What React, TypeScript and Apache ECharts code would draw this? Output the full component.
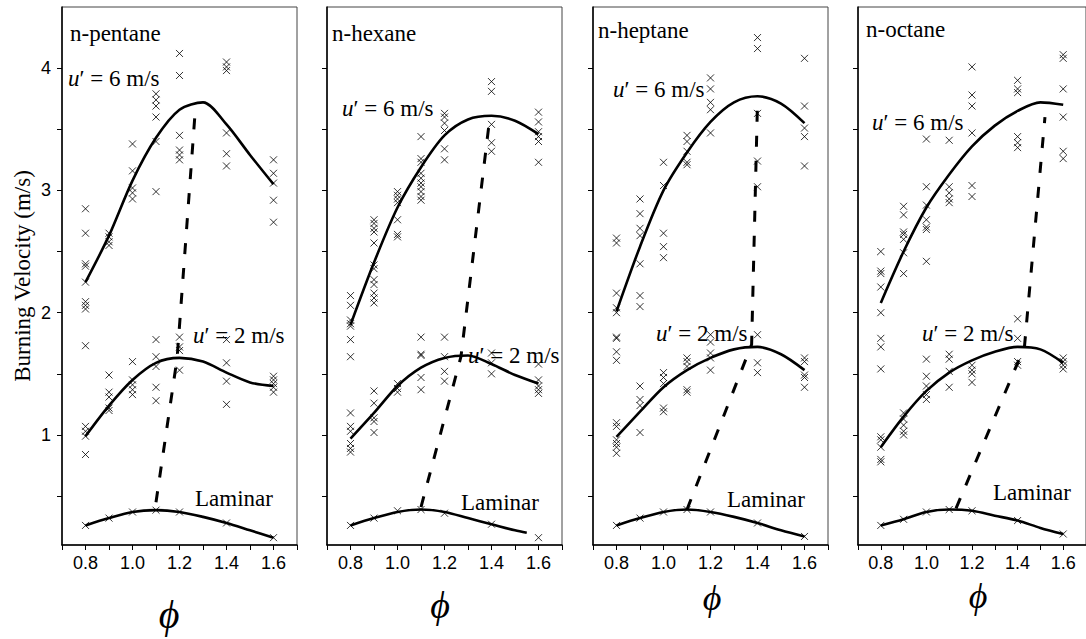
import React, { useEffect, useRef } from 'react';
import * as echarts from 'echarts';

const panelNames = ['n-pentane', 'n-hexane', 'n-heptane', 'n-octane'];
const xTickValues = [0.7, 0.8, 0.9, 1.0, 1.1, 1.2, 1.3, 1.4, 1.5, 1.6, 1.7];
const xLabelValues = [0.8, 1.0, 1.2, 1.4, 1.6];
const yTickValues = [0.5, 1.0, 1.5, 2.0, 2.5, 3.0, 3.5, 4.0];
const yLabelValues = [1, 2, 3, 4];

// ---------- n-pentane ----------
const pentaneU6 = [
  [0.8, 2.85], [0.8, 2.65], [0.8, 2.40], [0.8, 2.38], [0.8, 2.25], [0.8, 2.09], [0.8, 2.06], [0.8, 2.03], [0.8, 1.73],
  [0.9, 2.65], [0.9, 2.62], [0.9, 2.58], [0.9, 2.55],
  [1.0, 3.38], [1.0, 3.16], [1.0, 3.02], [1.0, 2.98], [1.0, 2.93],
  [1.1, 3.79], [1.1, 3.74], [1.1, 3.69], [1.1, 3.60], [1.1, 3.40], [1.1, 2.99],
  [1.2, 4.12], [1.2, 3.94], [1.2, 3.45], [1.2, 3.33], [1.2, 3.29], [1.2, 3.25],
  [1.4, 4.05], [1.4, 4.01], [1.4, 3.98], [1.4, 3.47], [1.4, 3.30], [1.4, 3.20],
  [1.6, 3.25], [1.6, 3.14], [1.6, 3.06], [1.6, 2.92], [1.6, 2.74],
];
const pentaneU2 = [
  [0.8, 1.07], [0.8, 1.03], [0.8, 0.99], [0.8, 0.84],
  [0.9, 1.49], [0.9, 1.35], [0.9, 1.31], [0.9, 1.22], [0.9, 1.20],
  [1.0, 1.60], [1.0, 1.45], [1.0, 1.41], [1.0, 1.37], [1.0, 1.33],
  [1.1, 1.78], [1.1, 1.64], [1.1, 1.56], [1.1, 1.39], [1.1, 1.28],
  [1.2, 1.80], [1.2, 1.72], [1.2, 1.69], [1.2, 1.53],
  [1.4, 1.78], [1.4, 1.59], [1.4, 1.44], [1.4, 1.25],
  [1.6, 1.48], [1.6, 1.45], [1.6, 1.42], [1.6, 1.39], [1.6, 1.35],
];
const pentaneLam = [[0.8, 0.26], [0.9, 0.32], [1.0, 0.37], [1.1, 0.385], [1.2, 0.37], [1.4, 0.28], [1.6, 0.16]];
const pentaneFit6 = [[0.8, 2.25], [0.9, 2.63], [1.0, 3.08], [1.1, 3.43], [1.2, 3.66], [1.3, 3.72], [1.4, 3.54], [1.5, 3.29], [1.6, 3.05]];
const pentaneFit2 = [[0.8, 0.99], [0.9, 1.24], [1.0, 1.45], [1.1, 1.59], [1.2, 1.63], [1.3, 1.60], [1.4, 1.51], [1.5, 1.43], [1.6, 1.40]];
const pentaneFitLam = [[0.8, 0.26], [0.9, 0.32], [1.0, 0.37], [1.1, 0.385], [1.2, 0.37], [1.3, 0.33], [1.4, 0.28], [1.5, 0.22], [1.6, 0.16]];
const pentanePeaks = [[1.1, 0.45], [1.19, 1.63], [1.265, 3.6]];

// ---------- n-hexane ----------
const hexaneU6 = [
  [0.8, 2.14], [0.8, 2.06], [0.8, 1.94], [0.8, 1.91], [0.8, 1.89], [0.8, 1.78], [0.8, 1.64],
  [0.9, 2.76], [0.9, 2.73], [0.9, 2.69], [0.9, 2.66], [0.9, 2.57], [0.9, 2.39], [0.9, 2.36], [0.9, 2.27], [0.9, 2.23], [0.9, 2.16], [0.9, 2.12], [0.9, 2.08],
  [1.0, 2.99], [1.0, 2.96], [1.0, 2.93], [1.0, 2.90], [1.0, 2.76], [1.0, 2.64], [1.0, 2.62],
  [1.1, 3.44], [1.1, 3.26], [1.1, 3.23], [1.1, 3.14], [1.1, 3.10], [1.1, 3.06], [1.1, 3.03], [1.1, 2.99], [1.1, 2.95], [1.1, 2.92],
  [1.2, 3.63], [1.2, 3.60], [1.2, 3.55], [1.2, 3.49], [1.2, 3.34], [1.2, 3.25],
  [1.4, 3.89], [1.4, 3.81], [1.4, 3.54], [1.4, 3.39], [1.4, 3.32],
  [1.6, 3.64], [1.6, 3.56], [1.6, 3.48], [1.6, 3.44], [1.6, 3.40], [1.6, 3.23],
];
const hexaneU2 = [
  [0.8, 1.18], [0.8, 1.07], [0.8, 1.03], [0.8, 0.93], [0.8, 0.89], [0.8, 0.86],
  [0.9, 1.36], [0.9, 1.26], [0.9, 1.14], [0.9, 1.11], [0.9, 1.02],
  [1.0, 1.42], [1.0, 1.38], [1.0, 1.35],
  [1.1, 1.80], [1.1, 1.66], [1.1, 1.65], [1.1, 1.47], [1.1, 1.37],
  [1.2, 1.80], [1.2, 1.64], [1.2, 1.52], [1.2, 1.44],
  [1.4, 1.67], [1.4, 1.59], [1.4, 1.50],
  [1.6, 1.58], [1.6, 1.45], [1.6, 1.40], [1.6, 1.37], [1.6, 1.34],
];
const hexaneLam = [[0.8, 0.26], [0.9, 0.32], [1.0, 0.38], [1.1, 0.39], [1.2, 0.36], [1.4, 0.27], [1.6, 0.16]];
const hexaneFit6 = [[0.8, 1.90], [0.9, 2.41], [1.0, 2.86], [1.1, 3.19], [1.2, 3.45], [1.3, 3.58], [1.4, 3.61], [1.5, 3.57], [1.6, 3.46]];
const hexaneFit2 = [[0.8, 0.97], [0.9, 1.18], [1.0, 1.40], [1.1, 1.55], [1.2, 1.63], [1.3, 1.65], [1.4, 1.58], [1.5, 1.49], [1.6, 1.42]];
const hexaneFitLam = [[0.8, 0.26], [0.9, 0.32], [1.0, 0.37], [1.1, 0.39], [1.2, 0.37], [1.3, 0.32], [1.4, 0.27], [1.5, 0.22], [1.55, 0.20]];
const hexanePeaks = [[1.1, 0.41], [1.27, 1.64], [1.39, 3.55]];

// ---------- n-heptane ----------
const heptaneU6 = [
  [0.8, 2.61], [0.8, 2.57], [0.8, 2.16], [0.8, 2.04], [0.8, 2.00], [0.8, 1.80], [0.8, 1.79], [0.8, 1.68], [0.8, 1.61],
  [0.9, 2.93], [0.9, 2.81], [0.9, 2.69], [0.9, 2.63], [0.9, 2.40], [0.9, 2.14], [0.9, 2.05],
  [1.0, 3.23], [1.0, 3.04], [1.0, 2.65], [1.0, 2.54], [1.0, 2.45],
  [1.1, 3.45], [1.1, 3.40], [1.1, 3.32], [1.1, 3.23], [1.1, 3.21],
  [1.2, 3.92], [1.2, 3.83], [1.2, 3.72], [1.2, 3.66], [1.2, 3.47],
  [1.4, 4.25], [1.4, 4.16], [1.4, 3.63], [1.4, 3.24], [1.4, 3.03],
  [1.6, 4.08], [1.6, 3.69], [1.6, 3.51], [1.6, 3.44], [1.6, 3.20],
];
const heptaneU2 = [
  [0.8, 1.10], [0.8, 1.07], [0.8, 0.96], [0.8, 0.93], [0.8, 0.90], [0.8, 0.85],
  [0.9, 1.40], [0.9, 1.29], [0.9, 1.24], [0.9, 1.02],
  [1.0, 1.51], [1.0, 1.47], [1.0, 1.42], [1.0, 1.22], [1.0, 1.19],
  [1.1, 1.63], [1.1, 1.60], [1.1, 1.56], [1.1, 1.37], [1.1, 1.35],
  [1.2, 1.82], [1.2, 1.76], [1.2, 1.67], [1.2, 1.63], [1.2, 1.53],
  [1.4, 1.82], [1.4, 1.59], [1.4, 1.51],
  [1.6, 1.63], [1.6, 1.60], [1.6, 1.49], [1.6, 1.47], [1.6, 1.39],
];
const heptaneLam = [[0.8, 0.26], [0.9, 0.32], [1.0, 0.37], [1.1, 0.39], [1.2, 0.37], [1.4, 0.28], [1.6, 0.17]];
const heptaneFit6 = [[0.8, 2.01], [0.9, 2.54], [1.0, 3.00], [1.1, 3.31], [1.2, 3.56], [1.3, 3.72], [1.4, 3.77], [1.5, 3.71], [1.6, 3.55]];
const heptaneFit2 = [[0.8, 0.985], [0.9, 1.19], [1.0, 1.39], [1.1, 1.53], [1.2, 1.63], [1.3, 1.70], [1.4, 1.72], [1.5, 1.66], [1.6, 1.53]];
const heptaneFitLam = [[0.8, 0.26], [0.9, 0.32], [1.0, 0.37], [1.1, 0.39], [1.2, 0.37], [1.3, 0.33], [1.4, 0.28], [1.5, 0.22], [1.6, 0.17]];
const heptanePeaks = [[1.1, 0.39], [1.375, 1.74], [1.4, 3.72]];

// ---------- n-octane ----------
const octaneU6 = [
  [0.8, 2.50], [0.8, 2.34], [0.8, 2.32], [0.8, 2.21], [0.8, 2.00], [0.8, 1.79], [0.8, 1.72], [0.8, 1.54],
  [0.9, 2.87], [0.9, 2.80], [0.9, 2.66], [0.9, 2.64], [0.9, 2.60], [0.9, 2.49], [0.9, 2.32],
  [1.0, 3.42], [1.0, 3.03], [1.0, 2.88], [1.0, 2.76], [1.0, 2.70], [1.0, 2.68], [1.0, 2.42],
  [1.1, 3.41], [1.1, 3.03], [1.1, 2.98], [1.1, 2.93], [1.1, 2.90],
  [1.2, 4.01], [1.2, 3.78], [1.2, 3.69], [1.2, 3.47], [1.2, 3.04], [1.2, 2.95],
  [1.4, 3.90], [1.4, 3.83], [1.4, 3.80], [1.4, 3.44], [1.4, 3.39], [1.4, 3.35], [1.4, 1.95],
  [1.6, 4.11], [1.6, 4.08], [1.6, 3.83], [1.6, 3.60], [1.6, 3.32], [1.6, 3.26],
];
const octaneU2 = [
  [0.8, 0.985], [0.8, 0.96], [0.8, 0.90], [0.8, 0.80], [0.8, 0.78],
  [0.9, 1.18], [0.9, 1.13], [0.9, 1.08], [0.9, 1.03], [0.9, 1.00],
  [1.0, 1.62], [1.0, 1.48], [1.0, 1.40], [1.0, 1.33], [1.0, 1.29],
  [1.1, 1.66], [1.1, 1.62], [1.1, 1.52], [1.1, 1.39],
  [1.2, 1.57], [1.2, 1.53], [1.2, 1.50], [1.2, 1.43],
  [1.4, 1.79], [1.4, 1.60], [1.4, 1.57],
  [1.6, 1.63], [1.6, 1.60], [1.6, 1.57], [1.6, 1.54],
];
const octaneLam = [[0.8, 0.26], [0.9, 0.31], [1.0, 0.37], [1.1, 0.39], [1.2, 0.38], [1.4, 0.30], [1.6, 0.19]];
const octaneFit6 = [[0.8, 2.08], [0.9, 2.50], [1.0, 2.86], [1.1, 3.13], [1.2, 3.36], [1.3, 3.53], [1.4, 3.65], [1.5, 3.72], [1.6, 3.70]];
const octaneFit2 = [[0.8, 0.90], [0.9, 1.15], [1.0, 1.36], [1.1, 1.51], [1.2, 1.61], [1.3, 1.68], [1.4, 1.72], [1.5, 1.70], [1.6, 1.59]];
const octaneFitLam = [[0.8, 0.26], [0.9, 0.31], [1.0, 0.37], [1.1, 0.39], [1.2, 0.38], [1.3, 0.34], [1.4, 0.30], [1.5, 0.24], [1.6, 0.19]];
const octanePeaks = [[1.13, 0.40], [1.43, 1.72], [1.52, 3.60]];

const panels = [
  { name: panelNames[0], u6: pentaneU6, u2: pentaneU2, lam: pentaneLam, fit6: pentaneFit6, fit2: pentaneFit2, fitLam: pentaneFitLam, peaks: pentanePeaks },
  { name: panelNames[1], u6: hexaneU6, u2: hexaneU2, lam: hexaneLam, fit6: hexaneFit6, fit2: hexaneFit2, fitLam: hexaneFitLam, peaks: hexanePeaks },
  { name: panelNames[2], u6: heptaneU6, u2: heptaneU2, lam: heptaneLam, fit6: heptaneFit6, fit2: heptaneFit2, fitLam: heptaneFitLam, peaks: heptanePeaks },
  { name: panelNames[3], u6: octaneU6, u2: octaneU2, lam: octaneLam, fit6: octaneFit6, fit2: octaneFit2, fitLam: octaneFitLam, peaks: octanePeaks },
];

// layout (pixels)
const gridLefts = [62, 327, 593, 858];
const GRID_TOP = 7;
const GRID_W = 235;
const GRID_H = 538;

const SERIF = 'Liberation Serif, Times New Roman, Times, serif';
const SANS = 'Liberation Sans, Arial, Helvetica, sans-serif';

const labelLayout = [
  { title: [70, 33], u6: [68, 78], u2: [193, 335], lam: [195, 498], phi: [169, 614], phiSize: 40 },
  { title: [332, 33], u6: [342, 108], u2: [468, 355], lam: [461, 502], phi: [440, 605], phiSize: 38 },
  { title: [598, 30], u6: [613, 89], u2: [656, 333], lam: [727, 499], phi: [712, 598], phiSize: 36 },
  { title: [866, 29], u6: [872, 122], u2: [922, 333], lam: [993, 492], phi: [978, 596], phiSize: 36 },
];

const crossSymbol = 'path://M0,0L10,10M10,0L0,10';

function buildOption() {
  const grid: any[] = [];
  const xAxis: any[] = [];
  const yAxis: any[] = [];
  const series: any[] = [];
  const graphic: any[] = [];

  panels.forEach((p, i) => {
    grid.push({
      left: gridLefts[i], top: GRID_TOP, width: GRID_W, height: GRID_H,
      show: true, borderColor: '#444', borderWidth: 1, backgroundColor: 'transparent',
    });
    xAxis.push({
      type: 'value', gridIndex: i, min: 0.7, max: 1.7,
      axisLine: { show: true, onZero: false, lineStyle: { color: '#000', width: 1.5 } },
      axisTick: { show: true, inside: false, length: 5, customValues: xTickValues, lineStyle: { color: '#000', width: 1 } },
      axisLabel: {
        show: true, customValues: xLabelValues, margin: 9,
        formatter: (v: number) => v.toFixed(1),
        fontFamily: SANS, fontSize: 18, color: '#000',
      },
      splitLine: { show: false },
    });
    yAxis.push({
      type: 'value', gridIndex: i, min: 0.1, max: 4.5,
      axisLine: { show: true, onZero: false, lineStyle: { color: '#000', width: 1.5 } },
      axisTick: { show: true, inside: false, length: 5, customValues: yTickValues, lineStyle: { color: '#000', width: 1 } },
      axisLabel: {
        show: i === 0, customValues: yLabelValues, margin: 11,
        fontFamily: SANS, fontSize: 18, color: '#000',
      },
      splitLine: { show: false },
    });

    const scatterBase = {
      type: 'scatter', xAxisIndex: i, yAxisIndex: i,
      symbol: crossSymbol, symbolSize: 7,
      itemStyle: { color: 'transparent', borderColor: '#000', borderWidth: 1 },
      z: 3,
    };
    series.push({ ...scatterBase, name: p.name + ' u6', data: p.u6 });
    series.push({ ...scatterBase, name: p.name + ' u2', data: p.u2 });
    series.push({ ...scatterBase, name: p.name + ' laminar', data: p.lam });

    const lineBase = {
      type: 'line', xAxisIndex: i, yAxisIndex: i, symbol: 'none', smooth: 0.3,
      lineStyle: { color: '#000', width: 2.6 }, z: 4,
    };
    series.push({ ...lineBase, name: p.name + ' fit6', data: p.fit6 });
    series.push({ ...lineBase, name: p.name + ' fit2', data: p.fit2 });
    series.push({ ...lineBase, name: p.name + ' fitLam', data: p.fitLam });
    series.push({
      type: 'line', xAxisIndex: i, yAxisIndex: i, symbol: 'none', smooth: false,
      name: p.name + ' peaks', data: p.peaks,
      lineStyle: { color: '#000', width: 3, type: [11, 14] }, z: 4,
    });

    const L = labelLayout[i];
    const richStyle = { i: { fontStyle: 'italic', fontFamily: SERIF, fontSize: 23, fill: '#000' } } as any;
    graphic.push({
      type: 'text', x: L.title[0], y: L.title[1], z: 10,
      style: { text: p.name, fontFamily: SERIF, fontSize: 23, fill: '#000', textVerticalAlign: 'middle' },
    });
    graphic.push({
      type: 'text', x: L.u6[0], y: L.u6[1], z: 10,
      style: { text: '{i|u}′ = 6 m/s', fontFamily: SERIF, fontSize: 23, fill: '#000', textVerticalAlign: 'middle', rich: richStyle },
    });
    graphic.push({
      type: 'text', x: L.u2[0], y: L.u2[1], z: 10,
      style: { text: '{i|u}′ = 2 m/s', fontFamily: SERIF, fontSize: 23, fill: '#000', textVerticalAlign: 'middle', rich: richStyle },
    });
    graphic.push({
      type: 'text', x: L.lam[0], y: L.lam[1], z: 10,
      style: { text: 'Laminar', fontFamily: SERIF, fontSize: 23, fill: '#000', textVerticalAlign: 'middle' },
    });
    graphic.push({
      type: 'text', x: L.phi[0], y: L.phi[1], z: 10,
      style: { text: 'ϕ', fontFamily: SERIF, fontStyle: 'italic', fontSize: L.phiSize, fill: '#000', textAlign: 'center', textVerticalAlign: 'middle' },
    });
  });

  graphic.push({
    type: 'text', x: 22, y: 276, rotation: Math.PI / 2, z: 10,
    style: { text: 'Burning Velocity (m/s)', fontFamily: SERIF, fontSize: 23, fill: '#000', textAlign: 'center', textVerticalAlign: 'middle' },
  });

  return {
    animation: false,
    backgroundColor: '#fff',
    grid, xAxis, yAxis, series, graphic,
  };
}

export default function App() {
  const ref = useRef<HTMLDivElement>(null);
  useEffect(() => {
    if (!ref.current) return;
    const chart = echarts.init(ref.current, null, { renderer: 'svg' });
    chart.setOption(buildOption() as any);
    return () => chart.dispose();
  }, []);
  return (
    <div
      ref={ref}
      style={{ position: 'absolute', left: 0, top: 0, width: 1086, height: 639, background: '#fff' }}
    />
  );
}
